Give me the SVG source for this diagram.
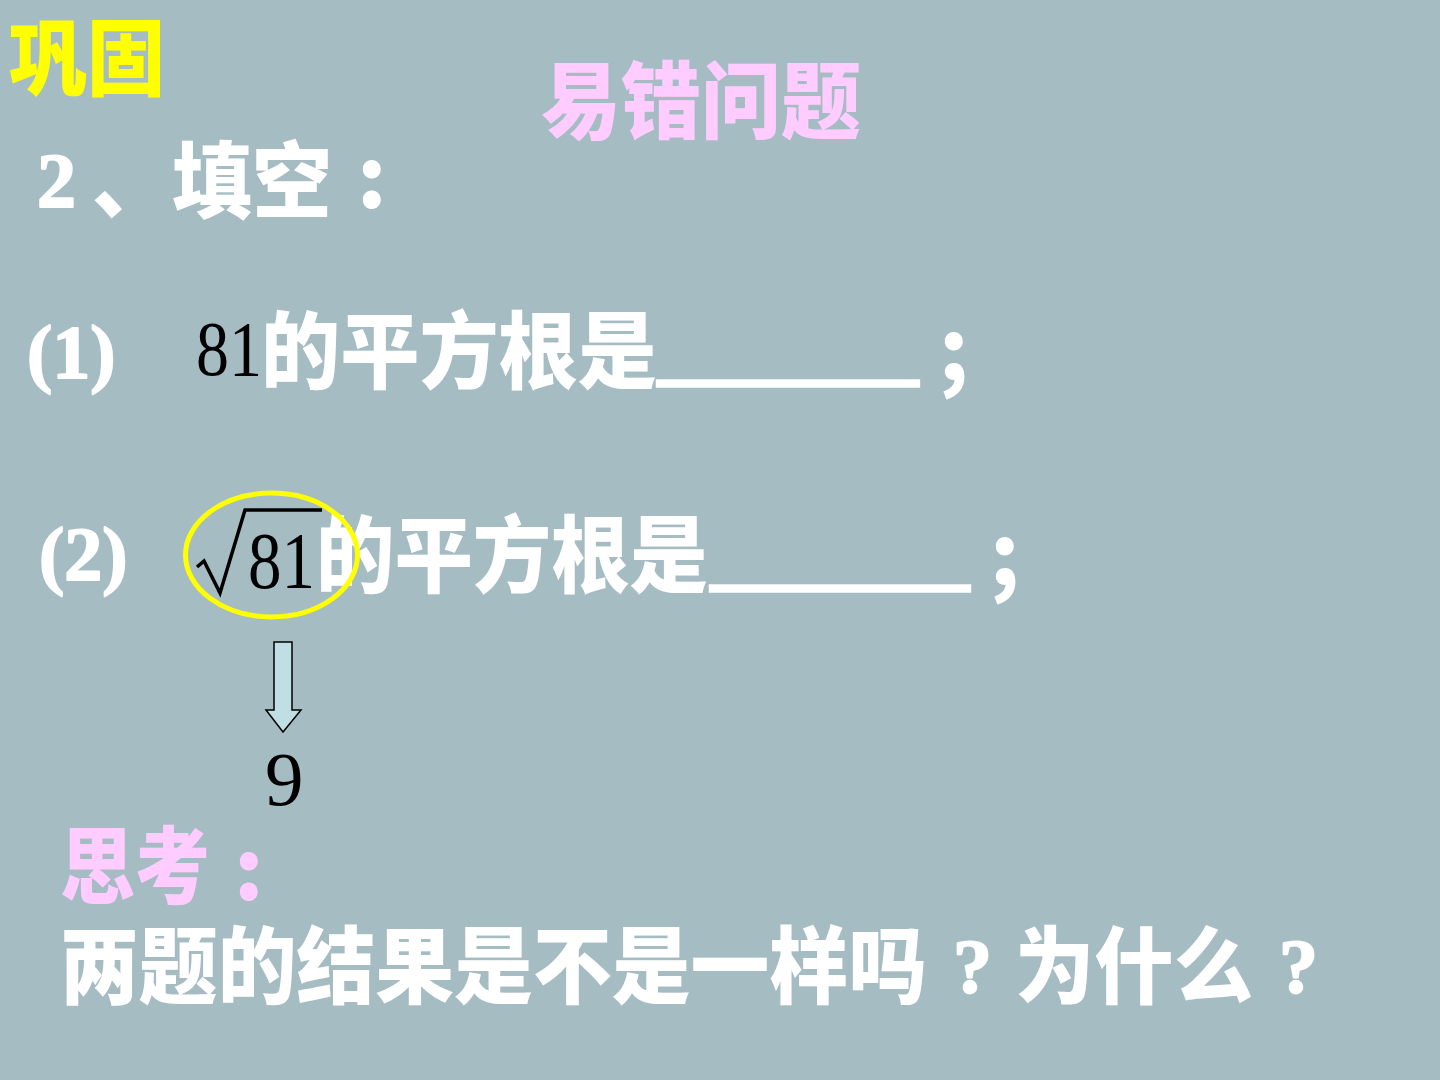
<svg xmlns="http://www.w3.org/2000/svg" width="1440" height="1080" viewBox="0 0 1440 1080">
<style>
.cjk{font-family:"Noto Sans CJK SC","Noto Sans",sans-serif;font-weight:900;font-size:84px}
.tb{font-family:"Liberation Serif","Times New Roman",serif;font-weight:bold;stroke:#FFFFFF;stroke-width:2;stroke-linejoin:round}
.tr{font-family:"Liberation Serif","Times New Roman",serif}
.w{fill:#FFFFFF}
.p{fill:#FFCCFF}
.k{fill:#000000}
</style>
<rect x="0" y="0" width="1440" height="1080" fill="#A6BCC3"/>
<g id="tag">
<text class="cjk" x="9" y="89" fill="#FFFF00" textLength="156" lengthAdjust="spacingAndGlyphs">巩固</text>
</g>
<g id="title">
<text class="cjk p" x="541" y="132" textLength="320" lengthAdjust="spacingAndGlyphs">易错问题</text>
</g>
<g id="heading">
<text class="tb w" x="37" y="207" font-size="78">2</text>
<text class="cjk w" x="92" y="212" textLength="240" lengthAdjust="spacingAndGlyphs">、填空</text>
<text class="cjk w" x="357" y="208" font-size="62">:</text>
</g>
<g id="q1">
<text class="tb w" x="27" y="378" font-size="76">(1)</text>
<text class="tr k" x="196" y="375" font-size="78" textLength="66" lengthAdjust="spacingAndGlyphs">81</text>
<text class="cjk w" x="261" y="382" textLength="396" lengthAdjust="spacingAndGlyphs">的平方根是</text>
<text class="cjk w" x="649" y="374" font-size="72" textLength="278" lengthAdjust="spacingAndGlyphs">_</text>
<text class="cjk w" x="939" y="380" font-size="62">;</text>
</g>
<g id="q2">
<text class="tb w" x="39" y="580" font-size="76">(2)</text>
<path d="M197,567 L204,561 L220,593 L245,510 L322,510" fill="none" stroke="#000" stroke-width="3.5" stroke-linejoin="miter"/>
<text class="tr k" x="248" y="588" font-size="81" textLength="67" lengthAdjust="spacingAndGlyphs">81</text>
<text class="cjk w" x="316" y="586" textLength="392" lengthAdjust="spacingAndGlyphs">的平方根是</text>
<text class="cjk w" x="702" y="579" font-size="72" textLength="276" lengthAdjust="spacingAndGlyphs">_</text>
<text class="cjk w" x="990" y="585" font-size="62">;</text>
<ellipse cx="271.5" cy="555" rx="86" ry="62" fill="none" stroke="#FFFF00" stroke-width="5"/>
</g>
<g id="connectors">
<polygon points="274,642 292,642 292,710 301,710 283,732 266,710 274,710" fill="#BFDFE5" stroke="#000" stroke-width="1.5" stroke-linejoin="miter"/>
</g>
<g id="result">
<text class="tr k" x="265" y="805" font-size="77">9</text>
</g>
<g id="think">
<text class="cjk p" x="60" y="897" font-size="80" textLength="150" lengthAdjust="spacingAndGlyphs">思考</text>
<text class="cjk p" x="234" y="900" font-size="60">:</text>
</g>
<g id="question">
<text class="cjk w" x="60" y="997" textLength="867" lengthAdjust="spacingAndGlyphs">两题的结果是不是一样吗</text>
<text class="tb w" x="953" y="993" font-size="78">?</text>
<text class="cjk w" x="1015" y="997" textLength="238" lengthAdjust="spacingAndGlyphs">为什么</text>
<text class="tb w" x="1279" y="993" font-size="78">?</text>
</g>
</svg>
